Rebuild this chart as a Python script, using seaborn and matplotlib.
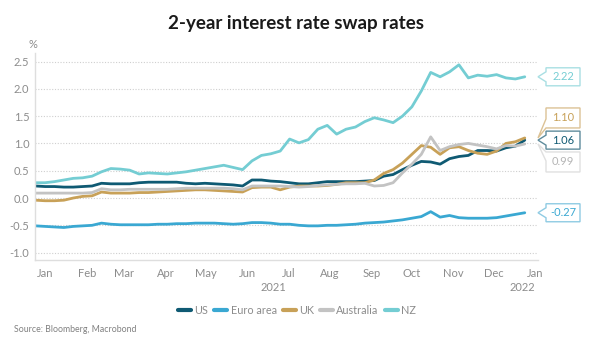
import numpy as np
import pandas as pd
import matplotlib
matplotlib.use("Agg")
import matplotlib.pyplot as plt
import matplotlib.dates as mdates
import matplotlib.transforms as mtransforms
from matplotlib.patches import Polygon
import seaborn as sns

# ---------------- data (weekly) ----------------
dates = pd.date_range("2020-12-25", periods=53, freq="7D")

us = [0.22, 0.21, 0.21, 0.20, 0.20, 0.21, 0.22, 0.27, 0.26, 0.26,
      0.26, 0.28, 0.29, 0.29, 0.29, 0.29, 0.27, 0.26, 0.27, 0.26,
      0.25, 0.24, 0.22, 0.33, 0.33, 0.31, 0.30, 0.28, 0.26, 0.26,
      0.28, 0.30, 0.30, 0.30, 0.30, 0.31, 0.32, 0.40, 0.43, 0.52,
      0.60, 0.67, 0.66, 0.62, 0.72, 0.76, 0.78, 0.87, 0.87, 0.86,
      0.92, 0.95, 1.06]
euro = [-0.51, -0.52, -0.53, -0.54, -0.52, -0.51, -0.50, -0.46, -0.48, -0.49,
        -0.49, -0.49, -0.49, -0.48, -0.48, -0.47, -0.47, -0.46, -0.46, -0.46,
        -0.47, -0.48, -0.47, -0.45, -0.45, -0.46, -0.48, -0.48, -0.50, -0.51,
        -0.51, -0.50, -0.50, -0.49, -0.48, -0.46, -0.45, -0.44, -0.42, -0.40,
        -0.37, -0.34, -0.25, -0.35, -0.32, -0.36, -0.37, -0.37, -0.37, -0.36,
        -0.33, -0.30, -0.27]
uk = [-0.04, -0.05, -0.05, -0.04, 0.00, 0.03, 0.04, 0.11, 0.09, 0.09,
      0.09, 0.10, 0.10, 0.11, 0.12, 0.13, 0.14, 0.15, 0.15, 0.14,
      0.13, 0.12, 0.11, 0.19, 0.20, 0.20, 0.15, 0.20, 0.22, 0.22,
      0.22, 0.23, 0.25, 0.28, 0.28, 0.28, 0.33, 0.45, 0.52, 0.64,
      0.80, 0.96, 0.93, 0.80, 0.92, 0.94, 0.87, 0.82, 0.80, 0.86,
      1.00, 1.03, 1.10]
australia = [0.09, 0.09, 0.09, 0.09, 0.09, 0.09, 0.10, 0.17, 0.15, 0.15,
             0.16, 0.16, 0.16, 0.16, 0.16, 0.17, 0.18, 0.18, 0.18, 0.18,
             0.18, 0.17, 0.15, 0.22, 0.22, 0.22, 0.22, 0.21, 0.20, 0.21,
             0.23, 0.24, 0.25, 0.26, 0.26, 0.27, 0.22, 0.23, 0.28, 0.46,
             0.62, 0.80, 1.12, 0.87, 0.94, 0.98, 1.00, 0.97, 0.94, 0.90,
             0.96, 0.95, 0.99]
nz = [0.28, 0.28, 0.30, 0.33, 0.36, 0.37, 0.40, 0.48, 0.54, 0.53,
      0.51, 0.44, 0.46, 0.45, 0.44, 0.46, 0.48, 0.51, 0.54, 0.57,
      0.60, 0.56, 0.52, 0.68, 0.78, 0.81, 0.86, 1.08, 1.01, 1.07,
      1.26, 1.33, 1.17, 1.26, 1.30, 1.40, 1.47, 1.43, 1.38, 1.50,
      1.67, 1.96, 2.30, 2.22, 2.31, 2.44, 2.20, 2.25, 2.23, 2.26,
      2.20, 2.18, 2.22]

series_names = ["US", "Euro area", "UK", "Australia", "NZ"]
series_values = [us, euro, uk, australia, nz]
colors = ["#0f5a73", "#3aa8d2", "#c8a158", "#c3c3c3", "#74cdd3"]
label_colors = ["#0f5a73", "#3aa8d2", "#c8a158", "#b5b5b5", "#74cdd3"]
edge_colors = ["#5f8c9c", "#8fcbe3", "#dcc295", "#e0e0e0", "#a9dfe3"]
y_ticks = [-1.0, -0.5, 0.0, 0.5, 1.0, 1.5, 2.0, 2.5]
month_labels = ["Jan", "Feb", "Mar", "Apr", "May", "Jun", "Jul",
                "Aug", "Sep", "Oct", "Nov", "Dec", "Jan"]

df = pd.concat(
    [pd.DataFrame({"date": dates, "value": v, "series": n})
     for n, v in zip(series_names, series_values)],
    ignore_index=True,
)

# ---------------- figure ----------------
sns.set_theme(style="white")
plt.rcParams["font.family"] = ["Lato", "DejaVu Sans"]

fig = plt.figure(figsize=(6.0, 3.42), dpi=100)
ax = fig.add_axes([0.0583, 0.2406, 0.8387, 0.6035])

sns.lineplot(data=df, x="date", y="value", hue="series",
             hue_order=series_names, palette=colors, linewidth=2.0,
             ax=ax, legend=True)

ax.set_xlim(pd.Timestamp("2020-12-24 12:00"), pd.Timestamp("2022-01-03"))
ax.set_ylim(-1.13, 2.65)

grey = "#8c8c8c"
ax.set_yticks(y_ticks)
ax.set_yticklabels([f"{t:.1f}" for t in y_ticks], color=grey, fontsize=8)
month_ticks = pd.date_range("2021-01-01", periods=13, freq="MS")
ax.set_xticks(month_ticks)
ax.set_xticklabels(month_labels, color=grey, fontsize=8)
ax.tick_params(axis="both", length=0, pad=4)
ax.tick_params(axis="x", pad=6)
ax.set_xlabel("")
ax.set_ylabel("")

for t in y_ticks:
    ax.axhline(t, color="#cfcfcf", linewidth=0.8, linestyle=(0, (1, 1.5)), zorder=0)

for s in ["top", "right"]:
    ax.spines[s].set_visible(False)
for s in ["left", "bottom"]:
    ax.spines[s].set_color("#dedede")
    ax.spines[s].set_linewidth(1.0)

# year labels
xt = mtransforms.blended_transform_factory(ax.transData, ax.transAxes)
ax.text(mdates.date2num(pd.Timestamp("2021-06-20")), -0.135, "2021",
        transform=xt, ha="center", va="center", color=grey, fontsize=8)
ax.text(mdates.date2num(pd.Timestamp("2021-12-22")), -0.135, "2022",
        transform=xt, ha="center", va="center", color=grey, fontsize=8)

# % label
fig.text(33 / 600, 1 - 45 / 342, "%", color=grey, fontsize=8, ha="center", va="center")

# title & source
fig.text(0.493, 1 - 24 / 342, "2-year interest rate swap rates", fontsize=13.5,
         fontweight="bold", color="#1a1a1a", ha="center", va="center")
fig.text(14 / 600, 1 - 330 / 342, "Source: Bloomberg, Macrobond", fontsize=6.3,
         color="#808080", ha="left", va="center")

# legend
handles, labels = ax.get_legend_handles_labels()
leg = ax.legend(handles, labels, loc="center", bbox_to_anchor=(297 / 600, 1 - 310 / 342),
                bbox_transform=fig.transFigure, ncol=5, frameon=False, fontsize=7.8,
                handlelength=1.2, handletextpad=0.3, columnspacing=0.55)
for h in leg.get_lines():
    h.set_linewidth(3)
for t in leg.get_texts():
    t.set_color(grey)

# value callouts at the right
tip_x = 538 / 600  # figure fraction
tip_trans = mtransforms.blended_transform_factory(fig.transFigure, ax.transData)
W0, W1 = 8, 42
placements = {"US": "mid", "Euro area": "mid", "UK": "above", "Australia": "below", "NZ": "mid"}
for name, vals, c_txt, c_edge in zip(series_names, series_values, label_colors, edge_colors):
    last = vals[-1]
    mode = placements[name]
    if mode == "mid":
        h = 9
        verts = [(0, 0), (W0, 5), (W0, h), (W1, h), (W1, -h), (W0, -h), (W0, -5)]
        cy = 0
    elif mode == "above":
        b = 10
        verts = [(0, 0), (W0, b + 9), (W0, b + 20), (W1, b + 20), (W1, b), (W0, b)]
        cy = b + 10
    else:
        b = -8
        verts = [(0, 0), (W0, b), (W1, b), (W1, b - 20), (W0, b - 20), (W0, b - 9)]
        cy = b - 10
    tr = mtransforms.Affine2D() + mtransforms.ScaledTranslation(tip_x, last, tip_trans)
    poly = Polygon(verts, closed=True, facecolor="white", edgecolor=c_edge,
                   linewidth=1.0, transform=tr, clip_on=False, zorder=5)
    fig.add_artist(poly)
    trt = mtransforms.Affine2D().translate((W0 + W1) / 2, cy) + mtransforms.ScaledTranslation(tip_x, last, tip_trans)
    fig.text(0, 0, f"{last:.2f}", transform=trt, color=c_txt, fontsize=8,
             ha="center", va="center", zorder=6)

fig.savefig("out.png", dpi=100)
